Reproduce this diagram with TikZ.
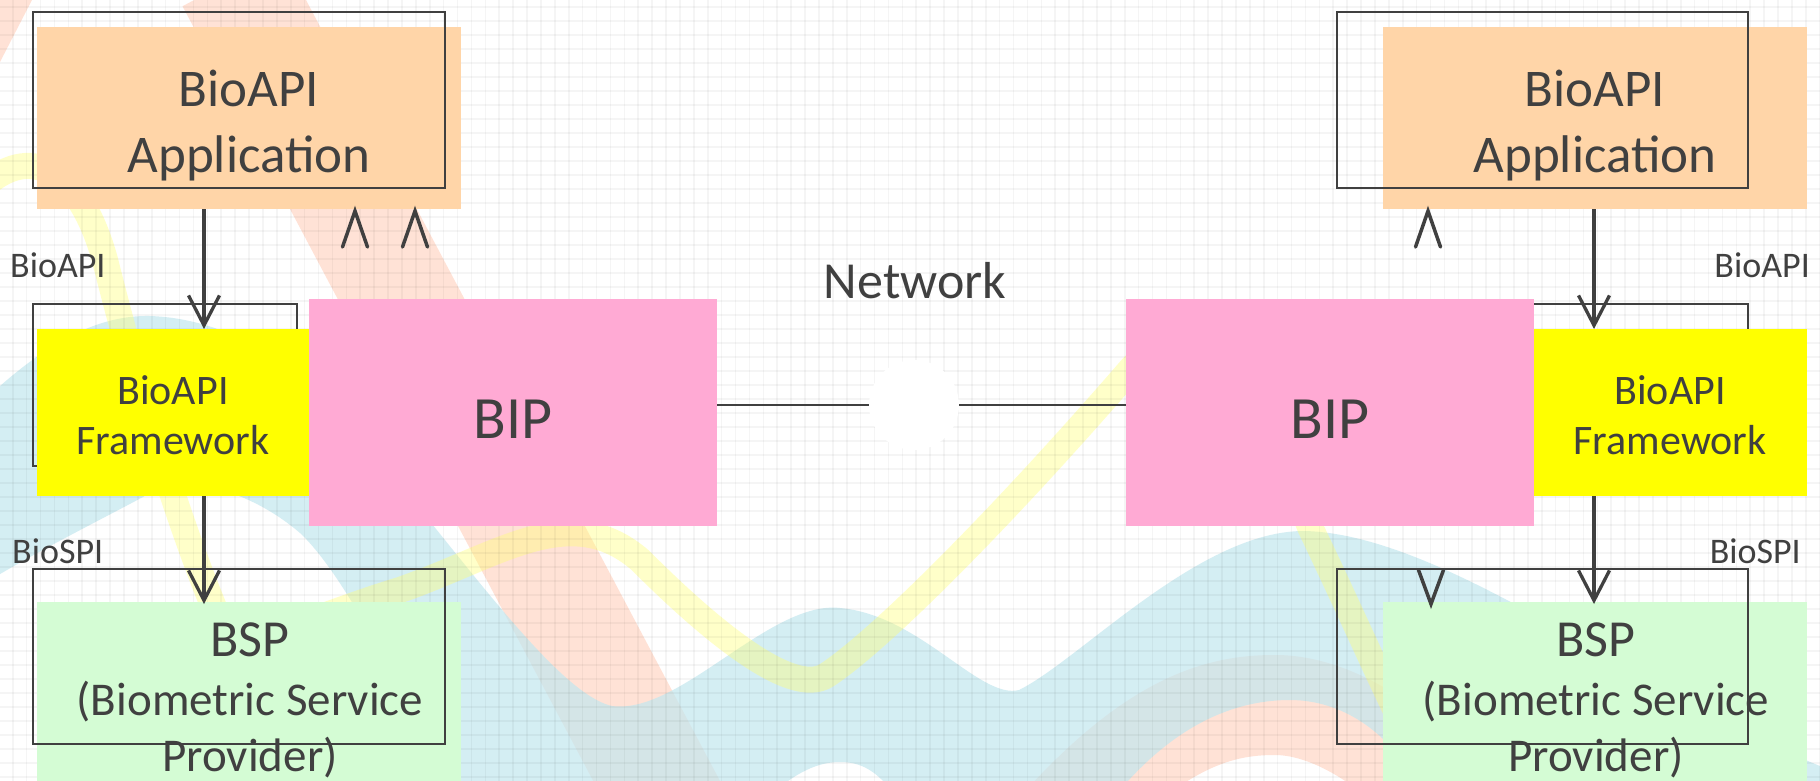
\documentclass[tikz,border=0pt]{standalone}
\usepackage{fontspec}
\setmainfont{Carlito}
\usetikzlibrary{arrows.meta,calc}
\definecolor{ink}{HTML}{404040}
\definecolor{peach}{HTML}{FFD5A8}
\definecolor{bippink}{HTML}{FFAAD4}
\definecolor{fwyellow}{HTML}{FFFF00}
\definecolor{mint}{HTML}{D4FCD4}
\definecolor{bgsalmon}{HTML}{FFE2D6}
\definecolor{bgblue}{HTML}{C3E7EF}
\definecolor{bgyellow}{HTML}{FFFF78}
\begin{document}
\begin{tikzpicture}[x=1pt,y=-1pt,
  fillbox/.style={rectangle,inner sep=0pt,outer sep=0pt,draw=none},
  framebox/.style={rectangle,inner sep=0pt,outer sep=0pt,draw=ink,line width=2pt},
  txt/.style={text=ink,inner sep=0pt,anchor=base},
  apptxt/.style={txt,font=\fontsize{53}{64}\selectfont},
  fwtxt/.style={txt,font=\fontsize{42}{50}\selectfont},
  biptxt/.style={txt,font=\fontsize{60}{72}\selectfont},
  bsptxt/.style={txt,font=\fontsize{47}{56}\selectfont},
  lbltxt/.style={txt,font=\fontsize{36}{43}\selectfont},
  arr/.style={draw=ink,line width=3.3pt,-{Straight Barb[length=30pt,width=31pt]}},
  chev/.style={draw=ink,line width=3.5pt,line cap=round,line join=miter},
  netline/.style={draw=ink,line width=2.2pt},
  gridline/.style={draw=black,draw opacity=0.04,line width=1.6pt}
]
\useasboundingbox (0,0) rectangle (1820,781);
% ---------- background ----------
\fill[white] (0,0) rectangle (1820,781);
\begin{scope}
\clip (0,0) rectangle (1820,781);
\fill[bgsalmon] (0,0) -- (32,0) -- (0,62) -- cycle;
\draw[bgsalmon,line width=112pt] (232,-20) -- (672,810);
\draw[bgsalmon,line width=100pt] (1040,850) .. controls (1150,720) and (1220,705) .. (1275,705) .. controls (1340,705) and (1420,760) .. (1480,850);
\fill[bgblue,fill opacity=0.7] (-10,395) .. controls (50,340) and (100,315) .. (150,316)
  .. controls (210,318) and (260,345) .. (295,372)
  .. controls (400,460) and (540,690) .. (612,706)
  .. controls (680,715) and (770,600) .. (840,608)
  .. controls (920,615) and (980,700) .. (1019,690)
  .. controls (1080,660) and (1200,530) .. (1305,531)
  .. controls (1450,535) and (1650,700) .. (1830,770)
  -- (1830,790) -- (1420,790)
  .. controls (1390,730) and (1340,700) .. (1290,700)
  .. controls (1240,700) and (1180,720) .. (1120,790)
  -- (891,790) .. controls (875,770) and (860,762) .. (840,762)
  .. controls (815,762) and (795,775) .. (776,790)
  -- (445,790) .. controls (400,680) and (340,570) .. (300,533)
  .. controls (250,490) and (180,470) .. (143,497)
  .. controls (100,520) and (40,550) .. (-10,580) -- cycle;
\draw[bgyellow,draw opacity=0.4,line width=26pt,line cap=round]
  (-20,190) .. controls (30,140) and (80,170) .. (105,260)
  .. controls (130,360) and (170,500) .. (215,610)
  .. controls (240,660) and (300,620) .. (400,590)
  .. controls (500,555) and (570,500) .. (640,560)
  .. controls (700,620) and (790,700) .. (827,675)
  .. controls (880,640) and (1000,520) .. (1130,370)
  .. controls (1200,290) and (1260,400) .. (1310,527)
  .. controls (1350,610) and (1380,680) .. (1420,760);
\foreach \i in {0,...,130} \draw[gridline] ({12.7+13.9*\i},0) -- ({12.7+13.9*\i},781);
\foreach \j in {0,...,55} \draw[gridline] (0,{7+14*\j}) -- (1820,{7+14*\j});
\end{scope}
% ---------- framework outlines (under fills) ----------
\node[framebox,minimum width=264pt,minimum height=162pt] (fwLo) at (165,385) {};
\node[framebox,minimum width=264pt,minimum height=162pt] (fwRo) at (1616,385) {};
% ---------- filled boxes ----------
\node[fillbox,fill=peach,minimum width=424pt,minimum height=182pt] (appL) at (249,118) {};
\node[fillbox,fill=fwyellow,minimum width=272pt,minimum height=167pt] (fwL) at (173,412.5) {};
\node[fillbox,fill=bippink,minimum width=408pt,minimum height=227pt] (pinkL) at (513,412.5) {};
\node[fillbox,fill=mint,minimum width=424pt,minimum height=188pt] (bspL) at (249,696) {};
\node[fillbox,fill=peach,minimum width=424pt,minimum height=182pt] (appR) at (1595,118) {};
\node[fillbox,fill=fwyellow,minimum width=273pt,minimum height=167pt] (fwR) at (1670.5,412.5) {};
\node[fillbox,fill=bippink,minimum width=408pt,minimum height=227pt] (pinkR) at (1330,412.5) {};
\node[fillbox,fill=mint,minimum width=424pt,minimum height=188pt] (bspR) at (1595,696) {};
% ---------- outlines on top ----------
\node[framebox,minimum width=412pt,minimum height=176pt] (appLo) at (239,100) {};
\node[framebox,minimum width=412pt,minimum height=175pt] (bspLo) at (239,656.5) {};
\node[framebox,minimum width=411pt,minimum height=176pt] (appRo) at (1542.5,100) {};
\node[framebox,minimum width=411pt,minimum height=175pt] (bspRo) at (1542.5,656.5) {};
% ---------- network ----------
\node[circle,fill=white,inner sep=0pt,outer sep=0pt,minimum size=90pt] (cloud) at (914,405) {};
\draw[netline] (pinkL.east |- cloud.west) -- (cloud.west);
\draw[netline] (cloud.east) -- (cloud.east -| pinkR.west);
% ---------- arrows ----------
\coordinate (axL) at (204,0);
\coordinate (axR) at (1594,0);
\draw[arr] (appL.south -| axL) -- (fwL.north -| axL);
\draw[arr] (fwL.south -| axL) -- ([yshift=-2pt]bspL.north -| axL);
\draw[arr] (appR.south -| axR) -- (fwR.north -| axR);
\draw[arr] (fwR.south -| axR) -- ([yshift=-2pt]bspR.north -| axR);
% ---------- chevrons ----------
\coordinate (cvA) at (355,211);
\coordinate (cvB) at (415,211);
\coordinate (cvC) at (1428,211);
\coordinate (cvD) at (1431,604);
\draw[chev] ([shift={(-12.5,36)}]cvA) -- (cvA) -- ([shift={(12.5,36)}]cvA);
\draw[chev] ([shift={(-12.5,36)}]cvB) -- (cvB) -- ([shift={(12.5,36)}]cvB);
\draw[chev] ([shift={(-12.5,36)}]cvC) -- (cvC) -- ([shift={(12.5,36)}]cvC);
\draw[chev] ([shift={(-12.5,-34)}]cvD) -- (cvD) -- ([shift={(12.5,-34)}]cvD);
% ---------- texts ----------
\node[apptxt] (tAL1) at (249,107) {BioAPI};
\node[apptxt] (tAL2) at (249,172) {Application};
\node[apptxt] (tAR1) at (1595,107) {BioAPI};
\node[apptxt] (tAR2) at (1595,172) {Application};
\node[fwtxt] (tFL1) at (173,404) {BioAPI};
\node[fwtxt] (tFL2) at (173,454) {Framework};
\node[fwtxt] (tFR1) at (1670,404) {BioAPI};
\node[fwtxt] (tFR2) at (1670,454) {Framework};
\node[biptxt] (tBL) at (513,438) {BIP};
\node[biptxt] (tBR) at (1330,438) {BIP};
\node[txt,font=\fontsize{52}{62}\selectfont] (tNet) at (915,298) {Network};
\node[txt,font=\fontsize{52}{62}\selectfont] (tSL1) at (250,656) {BSP};
\node[bsptxt] (tSL2) at (250,715) {(Biometric Service};
\node[bsptxt] (tSL3) at (250,771) {Provider)};
\node[txt,font=\fontsize{52}{62}\selectfont] (tSR1) at (1596,656) {BSP};
\node[bsptxt] (tSR2) at (1596,715) {(Biometric Service};
\node[bsptxt] (tSR3) at (1596,771) {Provider)};
\node[lbltxt,anchor=base west] (lApiL) at (10,277) {BioAPI};
\node[lbltxt,anchor=base east] (lApiR) at (1810,277) {BioAPI};
\node[lbltxt,anchor=base west] (lSpiL) at (12,563) {BioSPI};
\node[lbltxt,anchor=base east] (lSpiR) at (1801,563) {BioSPI};
\end{tikzpicture}
\end{document}
